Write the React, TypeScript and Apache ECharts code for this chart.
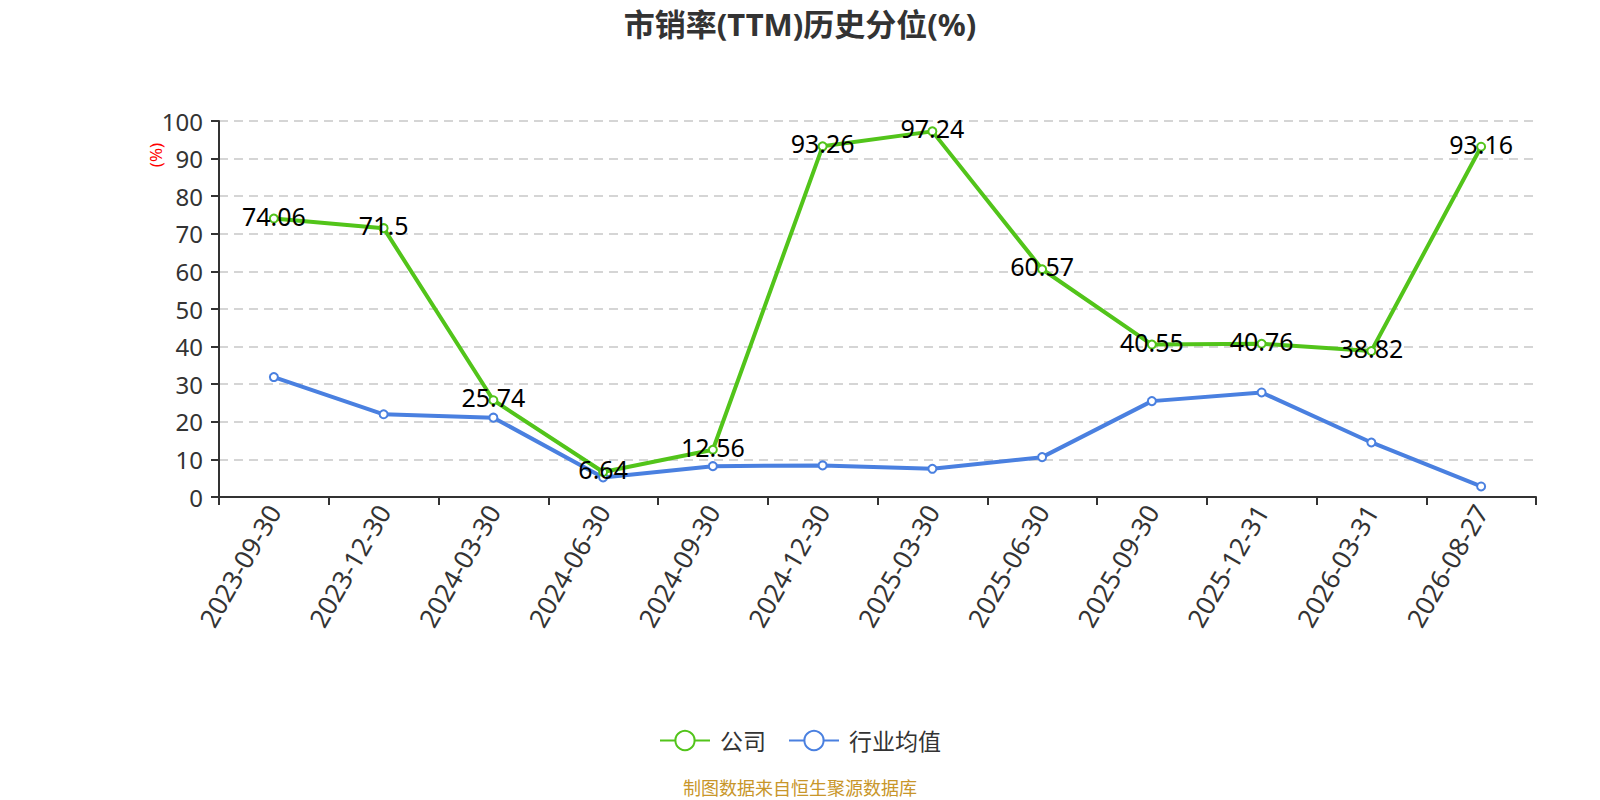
import React, { useEffect, useRef } from "react";
import * as echarts from "echarts";

const categories = [
  "2023-09-30", "2023-12-30", "2024-03-30", "2024-06-30", "2024-09-30", "2024-12-30",
  "2025-03-30", "2025-06-30", "2025-09-30", "2025-12-31", "2026-03-31", "2026-08-27",
];
const companyValues = [74.06, 71.5, 25.74, 6.64, 12.56, 93.26, 97.24, 60.57, 40.55, 40.76, 38.82, 93.16];
const industryValues = [31.9, 22.0, 21.1, 5.2, 8.2, 8.4, 7.5, 10.6, 25.5, 27.8, 14.5, 2.8];
const seriesNames = ["公司", "行业均值"];
const titleText = "市销率(TTM)历史分位(%)";
const sourceText = "制图数据来自恒生聚源数据库";
const yAxisName = "(%)";

const FONT = '"Noto Sans", "Noto Sans CJK SC", sans-serif';
const GREEN = "#52c41a";
const BLUE = "#4a80e0";

export default function App() {
  const ref = useRef<HTMLDivElement>(null);
  useEffect(() => {
    if (!ref.current) return;
    const chart = echarts.init(ref.current, null, { renderer: "svg" });
    chart.setOption({
      animation: false,
      textStyle: { fontFamily: FONT },
      title: {
        text: titleText,
        left: "center",
        top: 3,
        textStyle: { fontSize: 31, fontWeight: "bold", color: "#333", fontFamily: FONT },
      },
      legend: {
        top: 724,
        left: "center",
        itemWidth: 50,
        itemHeight: 24,
        itemGap: 22,
        textStyle: { fontSize: 23, color: "#333", fontFamily: FONT, padding: [0, 0, 0, 5] },
        data: seriesNames,
      },
      graphic: [
        {
          type: "text",
          left: "center",
          top: 779,
          style: { text: sourceText, fill: "#c8962a", fontSize: 18, fontFamily: FONT },
        },
        {
          type: "text",
          x: 155,
          y: 155,
          rotation: Math.PI / 2,
          style: {
            text: yAxisName,
            fill: "#ff0000",
            fontSize: 17,
            fontFamily: FONT,
            textAlign: "center",
            textVerticalAlign: "middle",
          },
        },
      ],
      grid: { left: 219, right: 64, top: 121, bottom: 303, containLabel: false },
      xAxis: {
        type: "category",
        data: categories,
        boundaryGap: true,
        axisLine: { lineStyle: { color: "#333", width: 2 } },
        axisTick: { show: true, lineStyle: { color: "#333", width: 2 }, length: 8 },
        axisLabel: { rotate: 60, fontSize: 26, color: "#333", margin: 10, interval: 0, fontFamily: FONT },
      },
      yAxis: {
        type: "value",
        min: 0,
        max: 100,
        interval: 10,
        axisLine: { show: true, lineStyle: { color: "#333", width: 2 } },
        axisTick: { show: true, lineStyle: { color: "#333", width: 2 }, length: 8 },
        axisLabel: { fontSize: 24, color: "#333", margin: 16, fontFamily: FONT },
        splitLine: { show: true, lineStyle: { type: [9, 6], color: "#c8c8c8", width: 1.5 } },
      },
      series: [
        {
          name: seriesNames[0],
          type: "line",
          data: companyValues,
          symbol: "emptyCircle",
          symbolSize: 8,
          showAllSymbol: true,
          itemStyle: { color: GREEN, borderWidth: 2 },
          lineStyle: { color: GREEN, width: 4 },
          emphasis: { disabled: true },
          z: 3,
          label: {
            show: true,
            position: "inside",
            offset: [0, -3],
            color: "#000",
            fontSize: 25,
            fontFamily: FONT,
          },
        },
        {
          name: seriesNames[1],
          type: "line",
          data: industryValues,
          symbol: "emptyCircle",
          symbolSize: 8,
          showAllSymbol: true,
          itemStyle: { color: BLUE, borderWidth: 2 },
          lineStyle: { color: BLUE, width: 4 },
          emphasis: { disabled: true },
          z: 2,
        },
      ],
    });
    return () => chart.dispose();
  }, []);
  return (
    <div
      ref={ref}
      style={{ position: "absolute", left: 0, top: 0, width: 1600, height: 800 }}
    />
  );
}
